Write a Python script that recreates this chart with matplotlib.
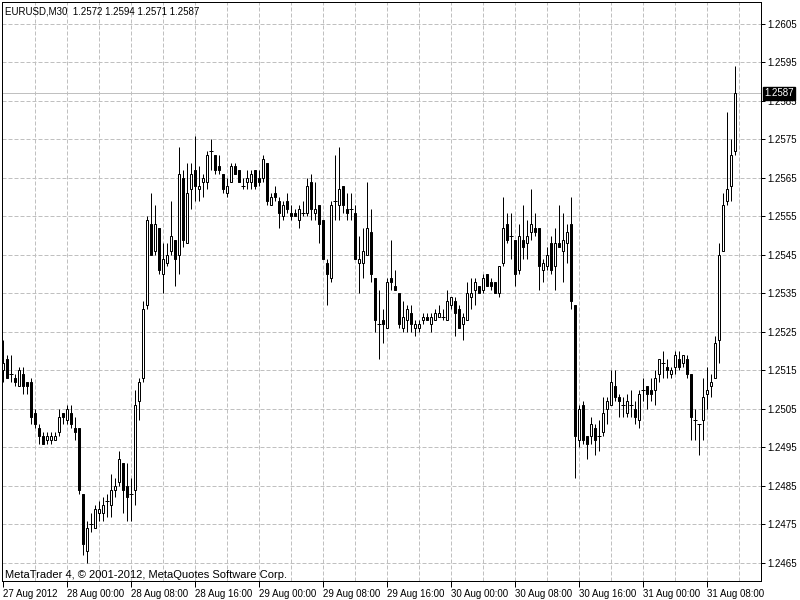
import numpy as np
import matplotlib
matplotlib.use("Agg")
import matplotlib.pyplot as plt

symbol_header = "EURUSD,M30  1.2572 1.2594 1.2571 1.2587"
copyright_text = "MetaTrader 4, \u00a9 2001-2012, MetaQuotes Software Corp."

opens = [1.2515, 1.2518, 1.2514, 1.2513, 1.2511, 1.2514, 1.2512, 1.2512, 1.2504, 1.2500,
         1.2498, 1.2497, 1.2497, 1.2497, 1.2499, 1.2504, 1.2502, 1.2504, 1.2500, 1.2500,
         1.2483, 1.2468, 1.2475, 1.2474, 1.2478, 1.2478, 1.2481, 1.2480, 1.2484, 1.2486,
         1.2491, 1.2485, 1.2483, 1.2484, 1.2507, 1.2513, 1.2532, 1.2553, 1.2546, 1.2552,
         1.2540, 1.2543, 1.2546, 1.2549, 1.2545, 1.2565, 1.2548, 1.2562, 1.2567, 1.2562,
         1.2564, 1.2564, 1.2572, 1.2571, 1.2568, 1.2566, 1.2561, 1.2564, 1.2568, 1.2567,
         1.2563, 1.2564, 1.2564, 1.2567, 1.2565, 1.2565, 1.2569, 1.2558, 1.2561, 1.2559,
         1.2555, 1.2559, 1.2556, 1.2556, 1.2554, 1.2556, 1.2556, 1.2564, 1.2556, 1.2558,
         1.2554, 1.2543, 1.2539, 1.2559, 1.2558, 1.2563, 1.2557, 1.2557, 1.2556, 1.2543,
         1.2543, 1.2545, 1.2551, 1.2539, 1.2527, 1.2528, 1.2526, 1.2539, 1.2537, 1.2535,
         1.2526, 1.2528, 1.2530, 1.2526, 1.2526, 1.2528, 1.2529, 1.2527, 1.2528, 1.2529,
         1.2529, 1.2528, 1.2532, 1.2533, 1.2531, 1.2527, 1.2528, 1.2534, 1.2536, 1.2537,
         1.2536, 1.2540, 1.2538, 1.2538, 1.2535, 1.2543, 1.2553, 1.2550, 1.2549, 1.2541,
         1.2549, 1.2548, 1.2551, 1.2552, 1.2552, 1.2541, 1.2542, 1.2548, 1.2542, 1.2548,
         1.2546, 1.2548, 1.2553, 1.2532, 1.2497, 1.2506, 1.2498, 1.2498, 1.2500, 1.2498,
         1.2499, 1.2505, 1.2506, 1.2511, 1.2508, 1.2506, 1.2504, 1.2506, 1.2505, 1.2502,
         1.2510, 1.2511, 1.2510, 1.2510, 1.2514, 1.2517, 1.2516, 1.2514, 1.2516, 1.2518,
         1.2517, 1.2518, 1.2514, 1.2502, 1.2501, 1.2502, 1.2509, 1.2511, 1.2513, 1.2523,
         1.2546, 1.2559, 1.2563, 1.2572]

highs = [1.2523, 1.2519, 1.2519, 1.2514, 1.2516, 1.2516, 1.2512, 1.2513, 1.2505, 1.2501,
         1.2499, 1.2499, 1.2499, 1.2499, 1.2505, 1.2504, 1.2506, 1.2506, 1.2503, 1.2500,
         1.2483, 1.2476, 1.2478, 1.2480, 1.2481, 1.2482, 1.2483, 1.2488, 1.2487, 1.2494,
         1.2491, 1.2491, 1.2487, 1.2510, 1.2513, 1.2533, 1.2555, 1.2561, 1.2558, 1.2552,
         1.2548, 1.2548, 1.2559, 1.2549, 1.2573, 1.2567, 1.2569, 1.2569, 1.2576, 1.2568,
         1.2566, 1.2572, 1.2575, 1.2571, 1.2571, 1.2566, 1.2565, 1.2569, 1.2569, 1.2567,
         1.2565, 1.2567, 1.2567, 1.2567, 1.2567, 1.2571, 1.2569, 1.2561, 1.2563, 1.2560,
         1.2559, 1.2561, 1.2558, 1.2557, 1.2558, 1.2559, 1.2565, 1.2566, 1.2564, 1.2558,
         1.2554, 1.2544, 1.2559, 1.2571, 1.2573, 1.2563, 1.2561, 1.2561, 1.2558, 1.2550,
         1.2552, 1.2564, 1.2557, 1.2539, 1.2536, 1.2531, 1.2539, 1.2549, 1.2541, 1.2535,
         1.2533, 1.2532, 1.2532, 1.2528, 1.2528, 1.2530, 1.2530, 1.2530, 1.2531, 1.2532,
         1.2531, 1.2536, 1.2534, 1.2534, 1.2532, 1.2530, 1.2538, 1.2539, 1.2539, 1.2537,
         1.2540, 1.2540, 1.2539, 1.2538, 1.2542, 1.2560, 1.2556, 1.2556, 1.2549, 1.2553,
         1.2558, 1.2554, 1.2562, 1.2556, 1.2552, 1.2544, 1.2547, 1.2550, 1.2552, 1.2558,
         1.2556, 1.2553, 1.2560, 1.2532, 1.2506, 1.2507, 1.2498, 1.2503, 1.2501, 1.2502,
         1.2508, 1.2508, 1.2515, 1.2515, 1.2509, 1.2508, 1.2509, 1.2510, 1.2507, 1.2510,
         1.2513, 1.2511, 1.2513, 1.2515, 1.2518, 1.2520, 1.2518, 1.2516, 1.2520, 1.2520,
         1.2519, 1.2519, 1.2514, 1.2505, 1.2501, 1.2513, 1.2516, 1.2514, 1.2524, 1.2548,
         1.2561, 1.2582, 1.2575, 1.2594]

lows = [1.2512, 1.2513, 1.2512, 1.2511, 1.2511, 1.2509, 1.2509, 1.2501, 1.2500, 1.2496,
        1.2496, 1.2496, 1.2496, 1.2497, 1.2498, 1.2501, 1.2501, 1.2500, 1.2497, 1.2483,
        1.2467, 1.2465, 1.2473, 1.2474, 1.2476, 1.2476, 1.2477, 1.2477, 1.2482, 1.2485,
        1.2478, 1.2476, 1.2476, 1.2480, 1.2502, 1.2512, 1.2531, 1.2545, 1.2545, 1.2540,
        1.2535, 1.2542, 1.2545, 1.2537, 1.2540, 1.2547, 1.2548, 1.2557, 1.2559, 1.2559,
        1.2560, 1.2562, 1.2567, 1.2566, 1.2566, 1.2561, 1.2560, 1.2564, 1.2566, 1.2564,
        1.2562, 1.2562, 1.2562, 1.2562, 1.2563, 1.2564, 1.2558, 1.2558, 1.2559, 1.2552,
        1.2554, 1.2556, 1.2554, 1.2555, 1.2552, 1.2555, 1.2555, 1.2554, 1.2554, 1.2548,
        1.2544, 1.2532, 1.2538, 1.2554, 1.2554, 1.2556, 1.2554, 1.2554, 1.2544, 1.2535,
        1.2539, 1.2545, 1.2538, 1.2525, 1.2518, 1.2522, 1.2526, 1.2536, 1.2536, 1.2526,
        1.2525, 1.2525, 1.2525, 1.2524, 1.2525, 1.2527, 1.2528, 1.2525, 1.2528, 1.2529,
        1.2528, 1.2528, 1.2531, 1.2524, 1.2526, 1.2523, 1.2528, 1.2531, 1.2532, 1.2535,
        1.2535, 1.2537, 1.2536, 1.2535, 1.2534, 1.2542, 1.2548, 1.2544, 1.2537, 1.2540,
        1.2544, 1.2544, 1.2549, 1.2550, 1.2536, 1.2538, 1.2541, 1.2540, 1.2536, 1.2547,
        1.2538, 1.2543, 1.2531, 1.2487, 1.2495, 1.2496, 1.2492, 1.2496, 1.2493, 1.2494,
        1.2498, 1.2501, 1.2506, 1.2507, 1.2503, 1.2503, 1.2503, 1.2503, 1.2501, 1.2500,
        1.2507, 1.2505, 1.2507, 1.2506, 1.2512, 1.2513, 1.2513, 1.2513, 1.2514, 1.2515,
        1.2516, 1.2513, 1.2497, 1.2497, 1.2493, 1.2497, 1.2505, 1.2508, 1.2513, 1.2517,
        1.2546, 1.2558, 1.2559, 1.2571]

closes = [1.2517, 1.2513, 1.2514, 1.2512, 1.2515, 1.2511, 1.2511, 1.2503, 1.2501, 1.2498,
          1.2496, 1.2498, 1.2498, 1.2498, 1.2503, 1.2503, 1.2505, 1.2501, 1.2499, 1.2484,
          1.2470, 1.2474, 1.2475, 1.2479, 1.2479, 1.2480, 1.2481, 1.2484, 1.2485, 1.2492,
          1.2484, 1.2482, 1.2483, 1.2506, 1.2512, 1.2531, 1.2554, 1.2545, 1.2553, 1.2541,
          1.2544, 1.2545, 1.2550, 1.2544, 1.2566, 1.2549, 1.2561, 1.2566, 1.2563, 1.2563,
          1.2565, 1.2571, 1.2572, 1.2567, 1.2567, 1.2562, 1.2563, 1.2568, 1.2566, 1.2564,
          1.2563, 1.2565, 1.2566, 1.2563, 1.2564, 1.2570, 1.2559, 1.2560, 1.2560, 1.2556,
          1.2558, 1.2557, 1.2555, 1.2555, 1.2557, 1.2556, 1.2563, 1.2557, 1.2557, 1.2553,
          1.2544, 1.2540, 1.2558, 1.2559, 1.2562, 1.2558, 1.2556, 1.2557, 1.2544, 1.2544,
          1.2546, 1.2552, 1.2540, 1.2528, 1.2527, 1.2527, 1.2538, 1.2538, 1.2536, 1.2527,
          1.2529, 1.2531, 1.2527, 1.2527, 1.2527, 1.2529, 1.2528, 1.2529, 1.2530, 1.2530,
          1.2529, 1.2533, 1.2534, 1.2530, 1.2526, 1.2529, 1.2535, 1.2535, 1.2538, 1.2535,
          1.2539, 1.2537, 1.2537, 1.2535, 1.2542, 1.2552, 1.2549, 1.2550, 1.2540, 1.2550,
          1.2547, 1.2550, 1.2553, 1.2551, 1.2542, 1.2543, 1.2545, 1.2541, 1.2548, 1.2547,
          1.2549, 1.2551, 1.2533, 1.2498, 1.2505, 1.2497, 1.2496, 1.2501, 1.2497, 1.2498,
          1.2504, 1.2507, 1.2512, 1.2508, 1.2507, 1.2506, 1.2507, 1.2506, 1.2503, 1.2509,
          1.2510, 1.2509, 1.2509, 1.2513, 1.2518, 1.2517, 1.2515, 1.2515, 1.2519, 1.2516,
          1.2519, 1.2514, 1.2503, 1.2502, 1.2501, 1.2508, 1.2510, 1.2512, 1.2522, 1.2545,
          1.2558, 1.2562, 1.2571, 1.2587]

time_labels = ["27 Aug 2012", "28 Aug 00:00", "28 Aug 08:00", "28 Aug 16:00",
               "29 Aug 00:00", "29 Aug 08:00", "29 Aug 16:00", "30 Aug 00:00",
               "30 Aug 08:00", "30 Aug 16:00", "31 Aug 00:00", "31 Aug 08:00"]
bars_per_label = 16
price_levels = [1.2465, 1.2475, 1.2485, 1.2495, 1.2505, 1.2515, 1.2525, 1.2535,
                1.2545, 1.2555, 1.2565, 1.2575, 1.2585, 1.2595, 1.2605]
bid_price = 1.2587

O = np.array(opens); H = np.array(highs); L = np.array(lows); C = np.array(closes)
idx = np.arange(len(O))

FONT = "Liberation Sans"
PX = 0.72  # one pixel in points at 100 dpi
fig = plt.figure(figsize=(8, 6), dpi=100, facecolor="white")
ax = fig.add_axes([2 / 800, 19 / 600, 759 / 800, 579 / 600], facecolor="white")
ax.set_xlim(-0.25, 189.5)
ax.set_ylim(1.24603, 1.26107)

grid_kw = dict(color="#c0c0c0", lw=PX, ls=(0, (4, 2)), zorder=0)
for lv in price_levels:
    ax.axhline(lv, **grid_kw)
for gx in range(8, 190, 8):
    ax.axvline(gx, **grid_kw)

# bid line
ax.axhline(bid_price, color="#c0c0c0", lw=PX, zorder=1)

# wicks
ax.vlines(idx, L, H, color="black", lw=PX, zorder=2)
# bodies
up = C > O
down = C < O
doji = C == O
ax.bar(idx[up], (C - O)[up], bottom=O[up], width=0.5, facecolor="white",
       edgecolor="black", lw=PX, zorder=3)
ax.bar(idx[down], (O - C)[down], bottom=C[down], width=0.5, facecolor="black",
       edgecolor="black", lw=PX, zorder=3)
ax.hlines(O[doji], idx[doji] - 0.38, idx[doji] + 0.38, color="black", lw=PX, zorder=3)

for s in ax.spines.values():
    s.set_color("black")
    s.set_linewidth(PX)

ax.yaxis.tick_right()
ax.set_yticks(price_levels)
ax.set_yticklabels([f"{v:.4f}" for v in price_levels], family=FONT)
ax.tick_params(axis="y", direction="out", length=3, width=PX, pad=1.5, labelsize=7,
               colors="black")

xt = [i * bars_per_label for i in range(len(time_labels))]
ax.set_xticks(xt)
ax.set_xticklabels(time_labels, family=FONT)
ax.tick_params(axis="x", direction="out", length=4.5, width=PX, pad=1, labelsize=7,
               colors="black")
for lab in ax.get_xticklabels():
    lab.set_horizontalalignment("left")

ax.annotate(f"{bid_price:.4f}", xy=(1.0, bid_price), xycoords=("axes fraction", "data"),
            xytext=(2.5, 0), textcoords="offset points", va="center", ha="left",
            fontsize=7, color="white", family=FONT,
            bbox=dict(boxstyle="square,pad=0.15", facecolor="black", edgecolor="black"),
            annotation_clip=False, zorder=10)

fig.text(5 / 800, 1 - 12 / 600, symbol_header, fontsize=7, va="center", ha="left",
         family=FONT)
fig.text(5 / 800, 1 - 575 / 600, copyright_text, fontsize=8, va="center", ha="left",
         family=FONT)

fig.savefig("out.png", dpi=100, facecolor="white")
